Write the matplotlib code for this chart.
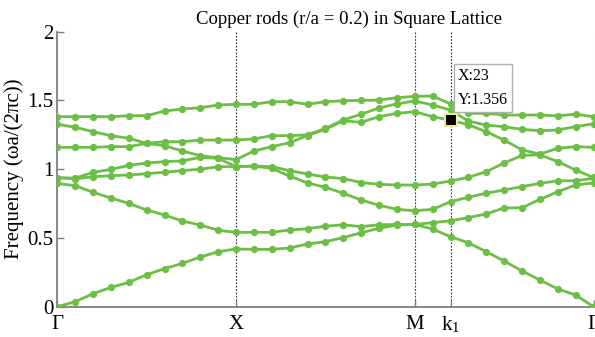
import numpy as np
import matplotlib
matplotlib.use("Agg")
import matplotlib.pyplot as plt

plt.rcParams['font.family'] = ['Liberation Serif', 'DejaVu Serif']
plt.rcParams['mathtext.fontset'] = 'stix'

# === DATA (k-path index 1..31: Gamma -> X -> M -> Gamma) ===
k_index = np.arange(1, 32)

band1 = [0.0, 0.036, 0.095, 0.14, 0.177, 0.233, 0.277, 0.315, 0.361, 0.40, 0.42,
         0.417, 0.417, 0.427, 0.456, 0.473, 0.502, 0.538, 0.57, 0.594, 0.598,
         0.565, 0.509, 0.465, 0.40, 0.332, 0.26, 0.194, 0.129, 0.085, 0.0]
band2 = [0.897, 0.88, 0.832, 0.79, 0.752, 0.703, 0.667, 0.623, 0.594, 0.556, 0.541,
         0.541, 0.541, 0.558, 0.567, 0.585, 0.596, 0.582, 0.596, 0.598, 0.598,
         0.611, 0.625, 0.648, 0.675, 0.718, 0.72, 0.78, 0.836, 0.885, 0.90]
band3 = [0.938, 0.93, 0.945, 0.953, 0.958, 0.967, 0.978, 0.99, 1.0, 1.018, 1.018,
         1.023, 1.006, 0.95, 0.90, 0.868, 0.825, 0.776, 0.738, 0.708, 0.698,
         0.708, 0.764, 0.796, 0.825, 0.849, 0.873, 0.897, 0.916, 0.916, 0.934]
band4 = [0.938, 0.935, 0.977, 0.999, 1.028, 1.045, 1.055, 1.06, 1.087, 1.079, 1.018,
         1.023, 1.018, 0.99, 0.965, 0.943, 0.932, 0.903, 0.89, 0.885, 0.885,
         0.892, 0.914, 0.941, 0.982, 1.045, 1.10, 1.105, 1.055, 0.994, 0.94]
band5 = [1.159, 1.159, 1.159, 1.164, 1.164, 1.188, 1.171, 1.132, 1.098, 1.084, 1.07,
         1.132, 1.164, 1.193, 1.245, 1.29, 1.352, 1.341, 1.382, 1.406, 1.418,
         1.382, 1.356, 1.324, 1.272, 1.212, 1.14, 1.11, 1.152, 1.164, 1.159]
band6 = [1.327, 1.305, 1.273, 1.244, 1.225, 1.188, 1.2, 1.2, 1.212, 1.212, 1.212,
         1.22, 1.244, 1.244, 1.249, 1.297, 1.358, 1.40, 1.445, 1.475, 1.496,
         1.467, 1.43, 1.35, 1.321, 1.309, 1.29, 1.28, 1.285, 1.31, 1.33]
band7 = [1.382, 1.382, 1.382, 1.382, 1.389, 1.389, 1.423, 1.438, 1.447, 1.467, 1.472,
         1.472, 1.491, 1.491, 1.472, 1.491, 1.498, 1.50, 1.503, 1.52, 1.53,
         1.532, 1.475, 1.406, 1.406, 1.394, 1.394, 1.394, 1.388, 1.40, 1.382]
bands = [band1, band2, band3, band4, band5, band6, band7]

sym_pos = [1, 11, 21, 23, 31]
sym_labels = [r'$\Gamma$', 'X', 'M', r'k$_\mathregular{1}$', r'$\Gamma$']
sym_labels = ['Γ', 'X', 'M', r'k$_\mathregular{1}$', 'Γ']
y_ticks = [0, 0.5, 1, 1.5, 2]
y_labels = ['0', '0.5', '1', '1.5', '2']

tip_k = 23
tip_y = 1.356

# === PLOT ===
W, H = 595, 337
fig = plt.figure(figsize=(W / 100, H / 100), dpi=100)
x0, x1, y_top, y_bot = 57.3, 593.5, 31.7, 306.7
ax = fig.add_axes([x0 / W, (H - y_bot) / H, (x1 - x0) / W, (y_bot - y_top) / H])

green = '#6cbf45'
for b in bands:
    ax.plot(k_index, b, '-o', color=green, lw=2.0, ms=4.2, mec=green, mfc=green, zorder=3)

for p in sym_pos[1:]:
    ax.axvline(p, color='#333333', lw=0.8, ls=(0, (1.5, 1.5)), zorder=1)

ax.set_xlim(1, 31)
ax.set_ylim(0, 2)
ax.set_xticks(sym_pos)
ax.set_xticklabels(sym_labels, fontsize=15)
ax.set_yticks(y_ticks)
ax.set_yticklabels(y_labels, fontsize=15)
ax.tick_params(direction='in', length=5, width=1, color='#808080', pad=3)
ax.tick_params(axis='x', pad=6)

for s in ['top', 'right']:
    ax.spines[s].set_visible(False)
for s in ['left', 'bottom']:
    ax.spines[s].set_color('#808080')
    ax.spines[s].set_linewidth(1.3)

ax.set_ylabel('Frequency (ωa/(2πc))', fontsize=15, labelpad=2)
fig.text(349 / W, 1 - 24 / H, 'Copper rods (r/a = 0.2) in Square Lattice',
         ha='center', va='baseline', fontsize=13.5)

# data tip
ax.plot(tip_k, tip_y, 's', ms=8, mfc='black', mec='#efe9a0', mew=1.5, zorder=5)
ax.text(23.4, 1.59, f'X:{tip_k}\nY:{tip_y}', fontsize=11.5, va='center', ha='left',
        linespacing=1.7, zorder=6,
        bbox=dict(boxstyle='square,pad=0.25', fc='white', ec='#b0b0b0', lw=1))

fig.savefig('out.png', dpi=100)
